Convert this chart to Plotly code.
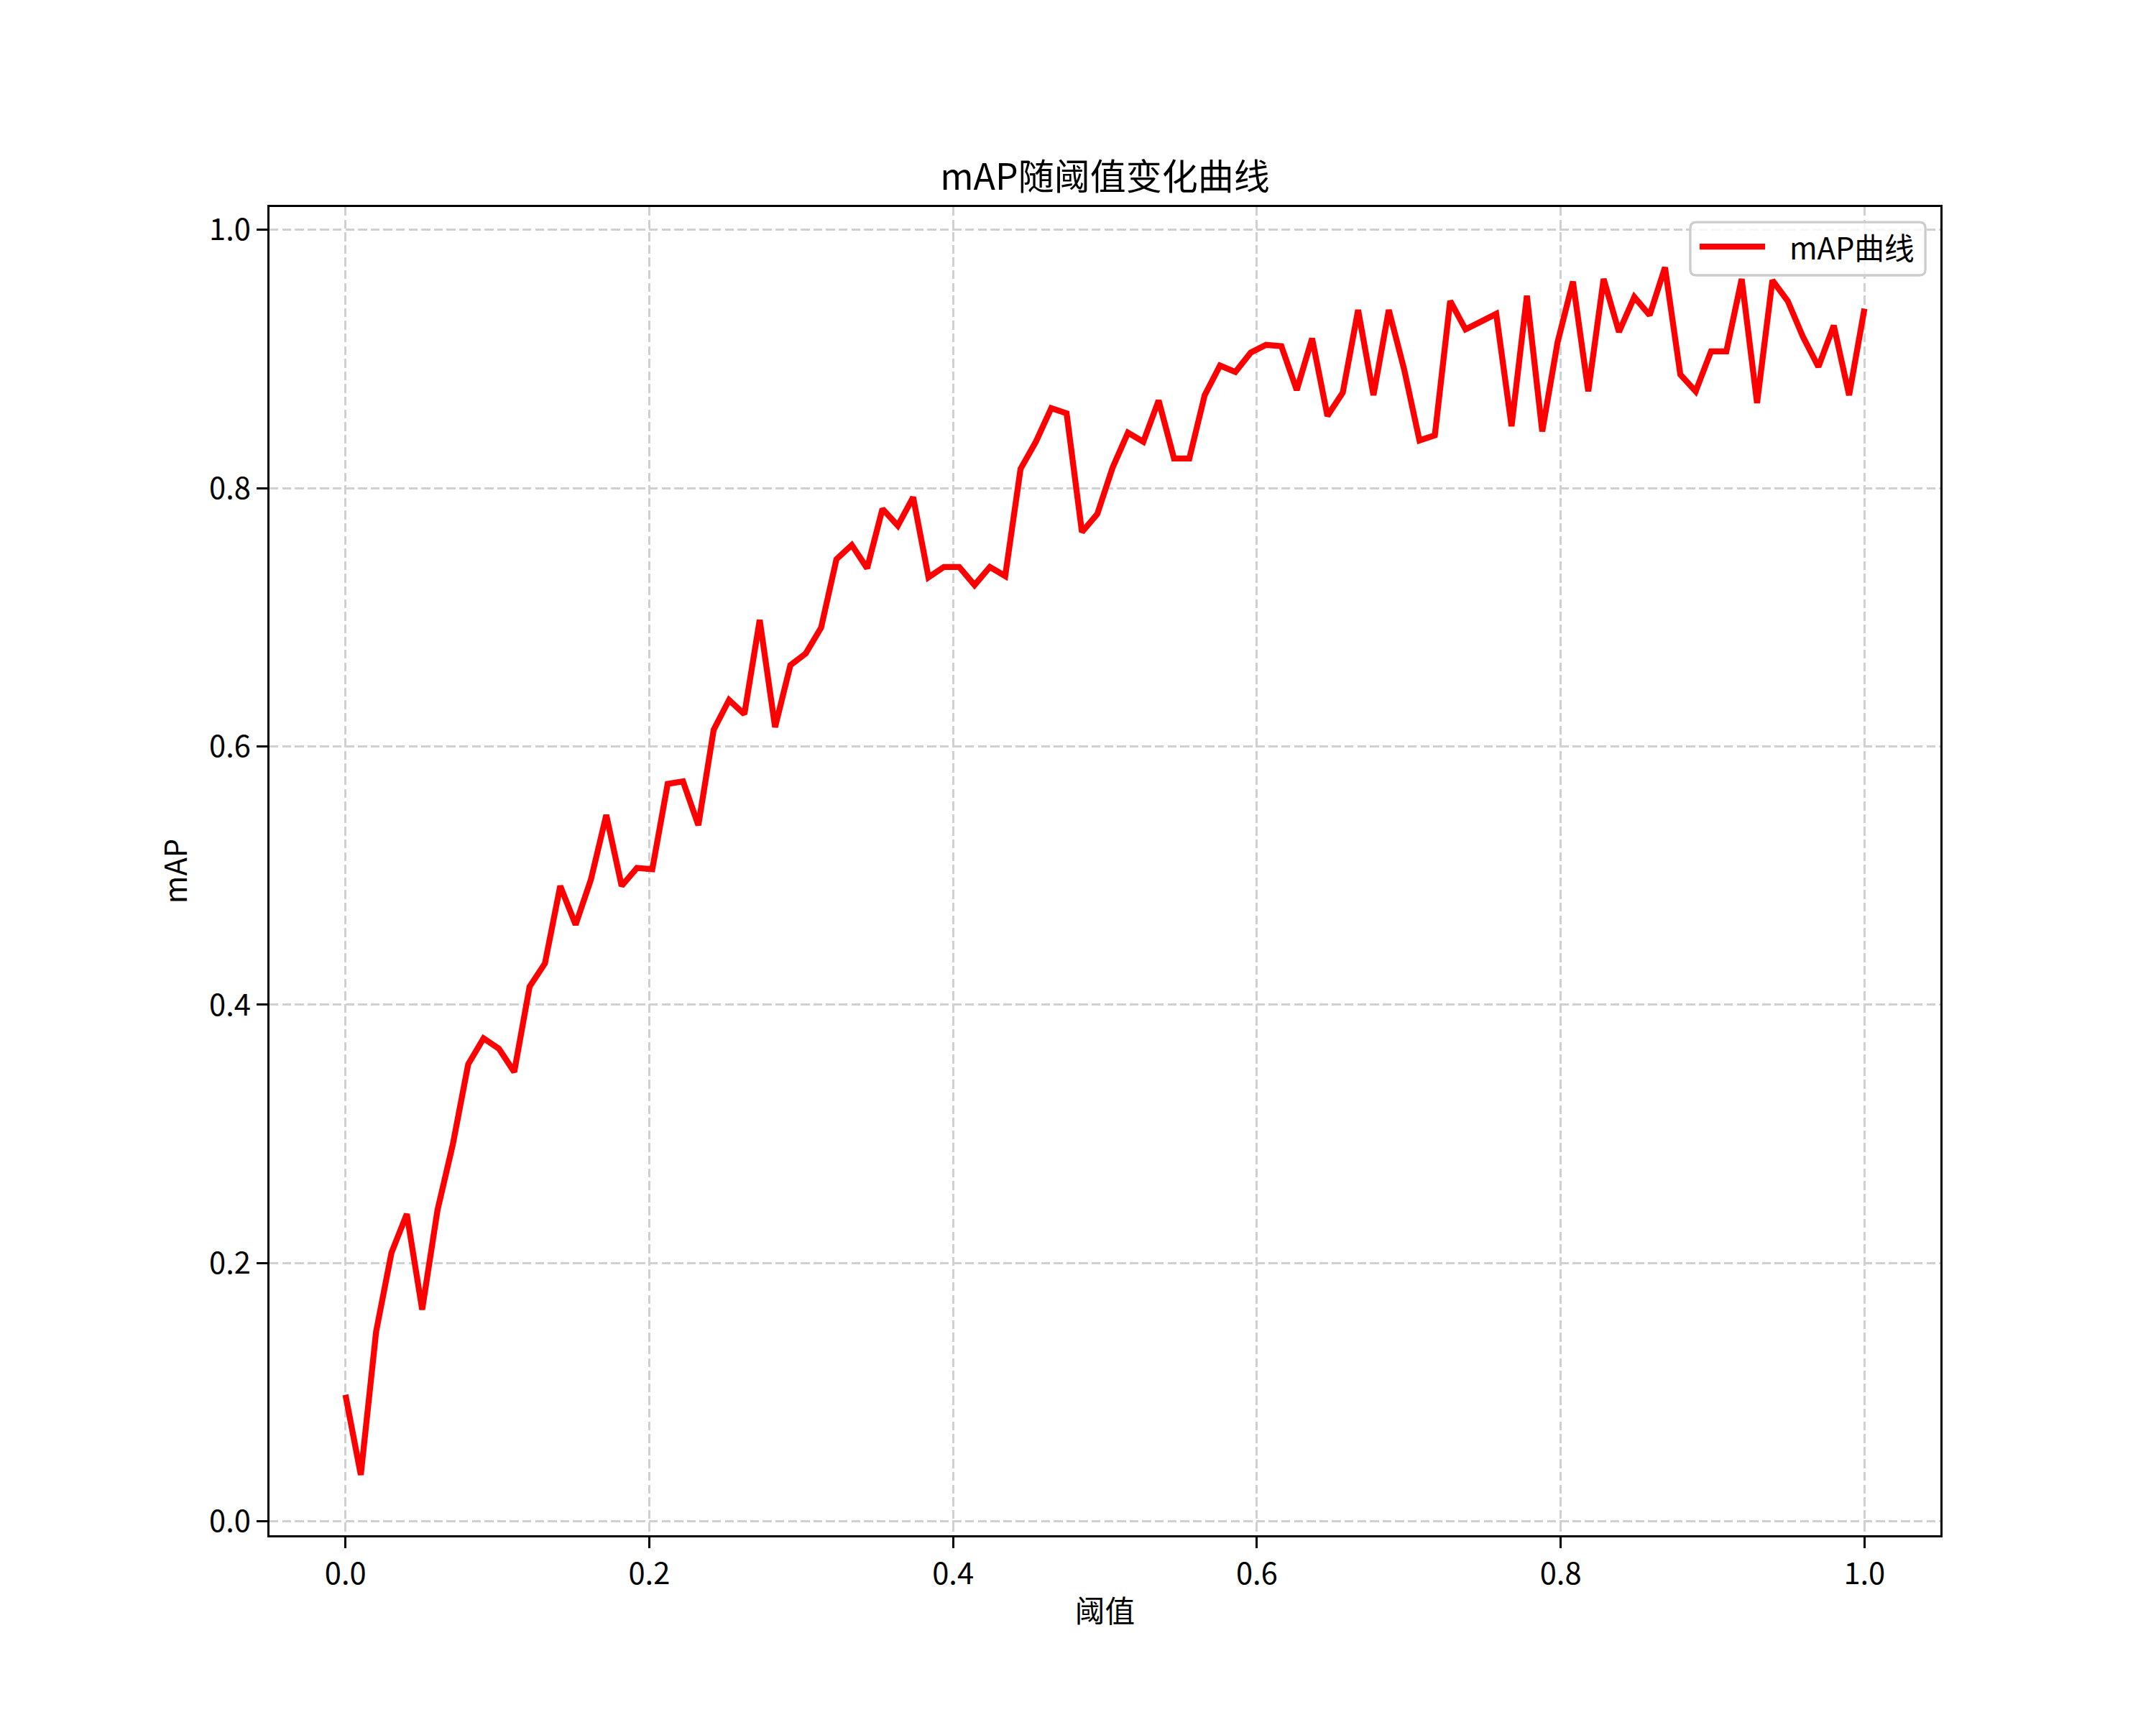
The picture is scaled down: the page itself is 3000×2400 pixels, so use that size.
import numpy as np
import plotly.graph_objects as go

# ---- data ----
thresholds = np.linspace(0, 1, 100)
map_values = [
    0.098, 0.036, 0.147, 0.208, 0.238, 0.164, 0.241, 0.292, 0.354, 0.374,
    0.366, 0.348, 0.414, 0.432, 0.492, 0.462, 0.497, 0.547, 0.492, 0.506,
    0.505, 0.571, 0.573, 0.539, 0.613, 0.636, 0.625, 0.698, 0.615, 0.663,
    0.672, 0.692, 0.745, 0.756, 0.738, 0.784, 0.771, 0.793, 0.731, 0.739,
    0.739, 0.725, 0.739, 0.732, 0.815, 0.836, 0.862, 0.858, 0.766, 0.780,
    0.816, 0.843, 0.836, 0.868, 0.823, 0.823, 0.872, 0.895, 0.890, 0.905,
    0.911, 0.910, 0.876, 0.916, 0.856, 0.874, 0.938, 0.872, 0.938, 0.892,
    0.837, 0.841, 0.945, 0.923, 0.929, 0.935, 0.848, 0.949, 0.844, 0.913,
    0.960, 0.875, 0.962, 0.921, 0.948, 0.934, 0.971, 0.888, 0.875, 0.906,
    0.906, 0.962, 0.866, 0.961, 0.945, 0.917, 0.894, 0.926, 0.872, 0.939,
]
tick_vals = [0.0, 0.2, 0.4, 0.6, 0.8, 1.0]
tick_text = ["0.0", "0.2", "0.4", "0.6", "0.8", "1.0"]
series_name = "mAP曲线"
title_text = "mAP随阈值变化曲线"
x_title = "阈值"
y_title = "mAP"

FONT = "Noto Sans CJK SC, Microsoft YaHei, sans-serif"
FS = 41.7
LINE_COLOR = "#ff0000"

# matplotlib-like 5% margins
xmin, xmax = float(thresholds.min()), float(thresholds.max())
ymin, ymax = min(map_values), max(map_values)
xpad = (xmax - xmin) * 0.05
ypad = (ymax - ymin) * 0.05

fig = go.Figure()
fig.add_trace(go.Scatter(
    x=thresholds, y=map_values, mode="lines", name=series_name,
    line=dict(color=LINE_COLOR, width=8.3),
    showlegend=False,
))

axis_common = dict(
    showline=True, linecolor="black", linewidth=3.3, mirror=True,
    ticks="outside", ticklen=14.6, tickwidth=3.3, tickcolor="black",
    showgrid=True, gridcolor="#d0d0d0", gridwidth=3.3, griddash="12.3px,5.3px",
    zeroline=False,
    tickfont=dict(family=FONT, size=FS, color="black"),
    tickvals=tick_vals, ticktext=tick_text,
)

# ---- matplotlib-style legend box (decoration, paper coordinates) ----
PW, PH = 2325.0, 1848.0   # plot area in px
bx0, bx1 = 0.8503, 0.9910
by0, by1 = 0.9486, 0.9886
rx, ry = 8.3 / PW, 8.3 / PH
legend_path = (
    f"M {bx0+rx},{by1} L {bx1-rx},{by1} Q {bx1},{by1} {bx1},{by1-ry} "
    f"L {bx1},{by0+ry} Q {bx1},{by0} {bx1-rx},{by0} "
    f"L {bx0+rx},{by0} Q {bx0},{by0} {bx0},{by0+ry} "
    f"L {bx0},{by1-ry} Q {bx0},{by1} {bx0+rx},{by1} Z"
)
leg_y = 0.9702

fig.update_layout(
    width=2992, height=2392,
    margin=dict(l=367, r=300, t=280, b=264),
    paper_bgcolor="white", plot_bgcolor="white",
    font=dict(family=FONT, size=FS, color="black"),
    title=dict(text=title_text, x=0.5, xref="paper", xanchor="center",
               yref="paper", y=1, yanchor="bottom", pad=dict(b=24),
               font=dict(family=FONT, size=50, color="black")),
    xaxis=dict(range=[xmin - xpad, xmax + xpad],
               title=dict(text=x_title, standoff=14, font=dict(family=FONT, size=FS)),
               **axis_common),
    yaxis=dict(range=[ymin - ypad, ymax + ypad],
               title=dict(text=y_title, standoff=18, font=dict(family=FONT, size=FS)),
               **axis_common),
    showlegend=False,
    shapes=[
        dict(type="path", xref="paper", yref="paper", path=legend_path,
             fillcolor="rgba(255,255,255,0.8)", line=dict(color="#cccccc", width=3.3),
             layer="above"),
        dict(type="line", xref="paper", yref="paper",
             x0=0.8559, x1=0.8951, y0=leg_y, y1=leg_y,
             line=dict(color=LINE_COLOR, width=8.3), layer="above"),
    ],
    annotations=[
        dict(text=series_name, xref="paper", yref="paper", x=0.9088, y=leg_y,
             xanchor="left", yanchor="middle", showarrow=False,
             font=dict(family=FONT, size=FS, color="black")),
    ],
)

fig.write_html("out.html")
